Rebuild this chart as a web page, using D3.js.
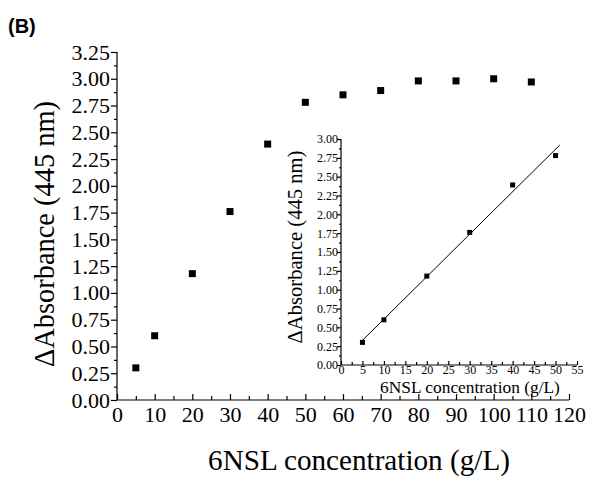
<!DOCTYPE html>
<html>
<head>
<meta charset="utf-8">
<script src="https://cdn.jsdelivr.net/npm/d3@7"></script>
<style>
  body { margin: 0; background: #fff; }
  svg { display: block; }
  .axis path, .axis line { stroke: #000; stroke-width: 1.2; }
  .serif { font-family: "Liberation Serif", "Times New Roman", Tinos, "DejaVu Serif", serif; fill: #000; }
</style>
</head>
<body>
<svg id="chart" width="590" height="479"></svg>
<script>
// main plot data
const concMain = [5, 10, 20, 30, 40, 50, 60, 70, 80, 90, 100, 110];
const absMain = [0.30, 0.60, 1.18, 1.76, 2.39, 2.78, 2.85, 2.89, 2.98, 2.98, 3.00, 2.97];
// inset data (linear range)
const concInset = [5, 10, 20, 30, 40, 50];
const absInset = [0.30, 0.60, 1.18, 1.76, 2.39, 2.78];

const mainXTicks = d3.range(0, 121, 10);
const mainYTicks = d3.range(0, 3.26, 0.25);
const insetXTicks = d3.range(0, 56, 5);
const insetYTicks = d3.range(0, 3.01, 0.25);

const svg = d3.select("#chart");

function styleAxis(g, size) {
  g.attr("font-family", null).attr("font-size", null);
  g.selectAll("text").attr("class", "serif").style("font-size", size + "px");
  return g;
}

// size a title so it spans roughly the same length as in the figure
function fitText(sel, size, len) {
  sel.style("font-size", size + "px");
  const w = sel.node().getComputedTextLength();
  if (w > 0) sel.style("font-size", (size * len / w).toFixed(2) + "px");
  return sel;
}

// ---- main plot
const x = d3.scaleLinear().domain([0, 120]).range([117, 569]);
const y = d3.scaleLinear().domain([0, 3.25]).range([400, 52]);

// minor ticks first
svg.append("g").attr("class", "axis")
  .attr("transform", "translate(0,400)")
  .call(d3.axisTop(x).tickValues(d3.range(5, 120, 10)).tickSize(4).tickFormat(""))
  .select(".domain").remove();
svg.append("g").attr("class", "axis")
  .attr("transform", "translate(117,0)")
  .call(d3.axisLeft(y).tickValues(d3.range(0.125, 3.25, 0.25)).tickSize(3).tickFormat(""))
  .select(".domain").remove();

const gx = svg.append("g").attr("class", "axis")
  .attr("transform", "translate(0,400)")
  .call(d3.axisTop(x).tickValues(mainXTicks).tickSizeInner(6).tickSizeOuter(0).tickFormat(d3.format("d")));
styleAxis(gx, 22);
gx.selectAll("text").attr("y", 6).attr("dy", "0.71em");
gx.select(".domain").attr("d", "M117,0H569");

const gy = svg.append("g").attr("class", "axis")
  .attr("transform", "translate(117,0)")
  .call(d3.axisLeft(y).tickValues(mainYTicks).tickSizeInner(6).tickSizeOuter(0).tickFormat(d3.format(".2f")));
styleAxis(gy, 22);
gy.selectAll("text").attr("x", -7);
gy.select(".domain").attr("d", "M0,400V52");

svg.append("g").selectAll("rect")
  .data(concMain.map((c, i) => [c, absMain[i]]))
  .join("rect")
  .attr("x", d => x(d[0]) - 3.5).attr("y", d => y(d[1]) - 3.5)
  .attr("width", 7).attr("height", 7).attr("fill", "#000");

fitText(svg.append("text").attr("class", "serif")
  .attr("x", 359).attr("y", 470)
  .attr("text-anchor", "middle")
  .text("6NSL concentration (g/L)"), 28, 302);

fitText(svg.append("text").attr("class", "serif")
  .attr("transform", "translate(54,234) rotate(-90)")
  .attr("text-anchor", "middle")
  .text("ΔAbsorbance (445 nm)"), 29, 266);

svg.append("text")
  .attr("x", 8).attr("y", 33)
  .style("font-family", "'Liberation Sans', Arial, sans-serif")
  .style("font-size", "20px").style("font-weight", "bold")
  .text("(B)");

// ---- inset
const xi = d3.scaleLinear().domain([0, 55]).range([341, 577]);
const yi = d3.scaleLinear().domain([0, 3]).range([365, 139]);

svg.append("g").attr("class", "axis")
  .attr("transform", "translate(0,365)")
  .call(d3.axisTop(xi).tickValues(d3.range(2.5, 55, 5)).tickSize(3).tickFormat(""))
  .select(".domain").remove();
svg.append("g").attr("class", "axis")
  .attr("transform", "translate(341,0)")
  .call(d3.axisLeft(yi).tickValues(d3.range(0.125, 3, 0.25)).tickSize(2).tickFormat(""))
  .select(".domain").remove();

const gxi = svg.append("g").attr("class", "axis")
  .attr("transform", "translate(0,365)")
  .call(d3.axisTop(xi).tickValues(insetXTicks).tickSizeInner(4).tickSizeOuter(0).tickFormat(d3.format("d")));
styleAxis(gxi, 12);
gxi.selectAll("text").attr("y", 0).attr("dy", "0.71em");
gxi.select(".domain").attr("d", "M341,0H577");

const gyi = svg.append("g").attr("class", "axis")
  .attr("transform", "translate(341,0)")
  .call(d3.axisLeft(yi).tickValues(insetYTicks).tickSizeInner(4).tickSizeOuter(0).tickFormat(d3.format(".2f")));
styleAxis(gyi, 12);
gyi.selectAll("text").attr("x", -3);
gyi.select(".domain").attr("d", "M0,365V139");

// least-squares fit line for the inset
const mx = d3.mean(concInset), my = d3.mean(absInset);
const slope = d3.sum(concInset, (c, i) => (c - mx) * (absInset[i] - my)) /
              d3.sum(concInset, c => (c - mx) * (c - mx));
const icpt = my - slope * mx;
const fitX = [4.8, 51];
svg.append("line")
  .attr("x1", xi(fitX[0])).attr("y1", yi(icpt + slope * fitX[0]))
  .attr("x2", xi(fitX[1])).attr("y2", yi(icpt + slope * fitX[1]))
  .attr("stroke", "#000").attr("stroke-width", 1);

svg.append("g").selectAll("rect")
  .data(concInset.map((c, i) => [c, absInset[i]]))
  .join("rect")
  .attr("x", d => xi(d[0]) - 2.5).attr("y", d => yi(d[1]) - 2.5)
  .attr("width", 5).attr("height", 5).attr("fill", "#000");

fitText(svg.append("text").attr("class", "serif")
  .attr("x", 470).attr("y", 392.5)
  .attr("text-anchor", "middle")
  .text("6NSL concentration (g/L)"), 17, 180);

fitText(svg.append("text").attr("class", "serif")
  .attr("transform", "translate(302,247) rotate(-90)")
  .attr("text-anchor", "middle")
  .text("ΔAbsorbance (445 nm)"), 17, 193);
</script>
</body>
</html>
